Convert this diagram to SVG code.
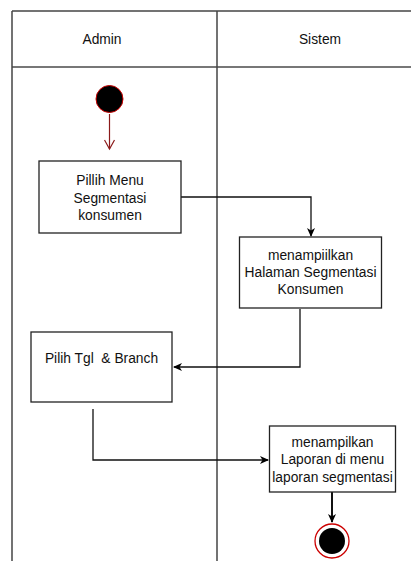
<svg xmlns="http://www.w3.org/2000/svg" width="411" height="561" viewBox="0 0 411 561">
<defs>
<style>
.lane{stroke:#444;stroke-width:1.5;fill:none}
.box{fill:#fff;stroke:#222;stroke-width:1.3}
.t{font-family:"Liberation Sans",Arial,sans-serif;font-size:13.8px;fill:#111;text-anchor:middle;white-space:pre}
.c{fill:none;stroke:#111;stroke-width:1.3}
</style>
<marker id="ah" markerWidth="10" markerHeight="10" refX="8" refY="5" orient="auto" markerUnits="userSpaceOnUse">
<path d="M0,1 L9,5 L0,9 L2.5,5 Z" fill="#000"/>
</marker>
<marker id="ao" markerWidth="12" markerHeight="12" refX="10" refY="6" orient="auto" markerUnits="userSpaceOnUse">
<path d="M1,1 L10,6 L1,11" fill="none" stroke="#8b1a1a" stroke-width="1.2"/>
</marker>
</defs>
<rect width="411" height="561" fill="#fff"/>
<g id="lanes">
<line class="lane" x1="12" y1="11" x2="411" y2="11"/>
<line x1="12" y1="67" x2="411" y2="67" stroke="#777" stroke-width="2.2"/>
<line class="lane" x1="12" y1="11" x2="12" y2="561"/>
<line class="lane" x1="217" y1="11" x2="217" y2="561"/>
<text class="t" x="102" y="44">Admin</text>
<text class="t" x="320" y="44">Sistem</text>
</g>
<g id="connectors">
<line x1="109.5" y1="114" x2="109.5" y2="149" stroke="#8b1a1a" stroke-width="1.2" marker-end="url(#ao)"/>
<polyline class="c" points="181,197 311,197 311,236" marker-end="url(#ah)"/>
<polyline class="c" points="300,309 300,367 174,367" marker-end="url(#ah)"/>
<polyline class="c" points="93,409 93,460 268,460" marker-end="url(#ah)"/>
<line class="c" x1="332" y1="492" x2="332" y2="522" style="stroke-width:2" marker-end="url(#ah)"/>
</g>
<g id="start">
<circle cx="109.5" cy="99" r="13.5" fill="#000" stroke="#c00" stroke-width="1"/>
</g>
<g id="n1">
<rect class="box" x="39" y="161" width="142" height="72"/>
<text class="t" x="110" y="185">Pillih Menu</text>
<text class="t" x="110" y="202.5">Segmentasi</text>
<text class="t" x="110" y="220">konsumen</text>
</g>
<g id="n2">
<rect class="box" x="239.5" y="237" width="142" height="71"/>
<text class="t" x="310.5" y="260">menampiilkan</text>
<text class="t" x="310.5" y="277">Halaman Segmentasi</text>
<text class="t" x="310.5" y="294">Konsumen</text>
</g>
<g id="n3">
<rect class="box" x="31" y="332" width="141" height="70"/>
<text class="t" x="101.5" y="363" xml:space="preserve">Pilih Tgl  &amp; Branch</text>
</g>
<g id="n4">
<rect class="box" x="269.5" y="426" width="126" height="66"/>
<text class="t" x="332.5" y="447">menampilkan</text>
<text class="t" x="332.5" y="464">Laporan di menu</text>
<text class="t" x="332.5" y="481.5">laporan segmentasi</text>
</g>
<g id="end">
<circle cx="332" cy="541" r="17" fill="#fff" stroke="#c00" stroke-width="1.3"/>
<circle cx="332" cy="541" r="13" fill="#000"/>
</g>
</svg>
